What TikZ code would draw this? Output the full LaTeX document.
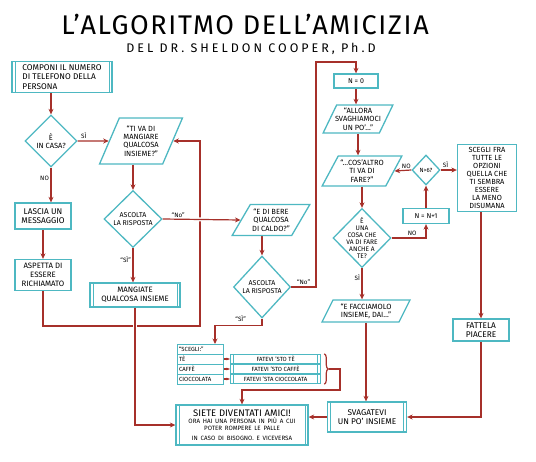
\documentclass[tikz,border=0pt]{standalone}
\usepackage{fontspec}
\setmainfont{Fira Sans}
\usetikzlibrary{shapes.geometric, arrows.meta, positioning, backgrounds, decorations.pathreplacing}
\definecolor{boxcol}{RGB}{78,184,194}
\definecolor{linecol}{RGB}{166,48,42}

\begin{document}
\begin{tikzpicture}[
    x=1pt, y=-1pt,
    font=\fontsize{8.3}{9.3}\selectfont,
    box/.style={draw=boxcol, line width=1.3pt, fill=white, align=center, inner sep=1pt},
    process/.style={box, path picture={
        \draw[boxcol, line width=0.8pt] ([xshift=3pt]path picture bounding box.north west) -- ([xshift=3pt]path picture bounding box.south west);
        \draw[boxcol, line width=0.8pt] ([xshift=-3pt]path picture bounding box.north east) -- ([xshift=-3pt]path picture bounding box.south east);}},
    decision/.style={box, diamond, inner sep=-1.5pt, font=\fontsize{7}{8}\selectfont},
    io/.style={box, trapezium, trapezium left angle=60, trapezium right angle=120, trapezium stretches=true, inner sep=0pt, inner xsep=-4pt, font=\fontsize{7.5}{8.4}\selectfont},
    row/.style={box, line width=1pt, outer sep=0pt, minimum width=46pt, minimum height=10pt, inner sep=0pt, text width=42pt, align=left, font=\fontsize{6}{6.2}\selectfont},
    arrow/.style={-{Stealth[length=5.5pt, width=5pt]}, draw=linecol, line width=1.2pt},
    line/.style={draw=linecol, line width=1.2pt},
    lbl/.style={font=\fontsize{6.3}{6.8}\selectfont, inner sep=1.5pt}
]
\useasboundingbox (0,0) rectangle (536,461);

% Title
\node[font=\fontsize{27}{29}\selectfont\addfontfeatures{LetterSpace=6}] (title) at (245,24) {L'ALGORITMO DELL'AMICIZIA};
\node[font=\fontsize{12.5}{14}\selectfont\addfontfeatures{LetterSpace=24}] (subtitle) at (251,49) {DEL DR. SHELDON COOPER, Ph.D};

% Left column
\node[process, minimum width=100pt, minimum height=31pt, align=left] (dial) at (62,77) {COMPONI IL NUMERO\\DI TELEFONO DELLA\\PERSONA};
\node[decision, minimum width=52pt, minimum height=52pt, font=\fontsize{7.5}{8.5}\selectfont] (home) at (51,141) {È\\IN CASA?};
\node[box, minimum width=56pt, minimum height=26pt] (msg) at (43,216) {LASCIA UN\\MESSAGGIO};
\node[box, minimum width=56pt, minimum height=31pt, font=\fontsize{7.8}{8.8}\selectfont] (wait) at (43,275) {ASPETTA DI\\ESSERE\\RICHIAMATO};

% Eat together
\node[io, trapezium left angle=68, trapezium right angle=112, minimum width=83pt, minimum height=46pt] (eat) at (141,141) {``TI VA DI\\MANGIARE\\QUALCOSA\\INSIEME?''};
\node[decision, minimum width=58pt, minimum height=57pt] (listen1) at (133,219) {ASCOLTA\\LA RISPOSTA};
\node[process, minimum width=90pt, minimum height=24pt, font=\fontsize{7.8}{8.8}\selectfont] (eattog) at (135,295) {MANGIATE\\QUALCOSA INSIEME};

% Drink together
\node[io, minimum width=78pt, minimum height=31pt] (drink) at (271,220) {``E DI BERE\\QUALCOSA\\DI CALDO?''};
\node[decision, minimum width=57pt, minimum height=62pt] (listen2) at (262,287) {ASCOLTA\\LA RISPOSTA};
\node[row] (pick) at (200,349) {``SCEGLI:''};
\node[row, below=0pt of pick] (tea) {TÈ};
\node[row, below=0pt of tea] (coffee) {CAFFÈ};
\node[row, below=0pt of coffee] (choc) {CIOCCOLATA};
\node[process, minimum width=90pt, minimum height=9pt, inner sep=0pt, right=7pt of tea, font=\fontsize{6}{6.2}\selectfont] (brewtea) {FATEVI 'STO TÈ};
\node[process, minimum width=90pt, minimum height=9pt, inner sep=0pt, right=7pt of coffee, font=\fontsize{6}{6.2}\selectfont] (brewcoffee) {FATEVI 'STO CAFFÈ};
\node[process, minimum width=90pt, minimum height=9pt, inner sep=0pt, right=7pt of choc, font=\fontsize{6}{6.2}\selectfont] (brewchoc) {FATEVI 'STA CIOCCOLATA};

% Friends
\node[process, minimum width=132pt, minimum height=40pt, text width=126pt] (friends) at (242,425) {{\fontsize{9.5}{11}\selectfont SIETE DIVENTATI AMICI!\par}\fontsize{6.2}{7.3}\selectfont ORA HAI UNA PERSONA IN PIÙ A CUI\\POTER ROMPERE LE PALLE\\IN CASO DI BISOGNO. E VICEVERSA};

% Right column
\node[box, minimum width=44pt, minimum height=14pt, font=\fontsize{7}{7.5}\selectfont] (nzero) at (356,81) {N = 0};
\node[io, trapezium left angle=62, trapezium right angle=118, minimum width=70pt, minimum height=28pt] (relax) at (358,119) {``ALLORA\\SVAGHIAMOCI\\UN PO'\ldots''};
\node[io, trapezium left angle=62, trapezium right angle=118, minimum width=80pt, minimum height=30pt] (what) at (362,171) {``\ldots COS'ALTRO\\TI VA DI\\FARE?''};
\node[decision, minimum width=58pt, minimum height=59pt, inner sep=-11pt, font=\fontsize{6.6}{7}\selectfont] (you) at (362,238) {È\\UNA\\COSA CHE\\VA DI FARE\\ANCHE A\\TE?};
\node[decision, minimum width=28pt, minimum height=30pt, inner sep=0pt, font=\fontsize{6}{6.5}\selectfont] (nsix) at (426,170) {N>6?};
\node[box, minimum width=46pt, minimum height=15pt, font=\fontsize{7}{7.5}\selectfont] (nplus) at (426,216) {N = N+1};
\node[box, minimum width=59pt, minimum height=67pt, font=\fontsize{7.4}{8}\selectfont] (choose) at (487,178) {SCEGLI FRA\\TUTTE LE\\OPZIONI\\QUELLA CHE\\TI SEMBRA\\ESSERE\\LA MENO\\DISUMANA};
\node[box, minimum width=56pt, minimum height=22pt] (enjoy) at (481,330) {FATTELA\\PIACERE};
\node[io, trapezium left angle=65, trapezium right angle=115, minimum width=88pt, minimum height=22pt] (together) at (366,311) {``E FACCIAMOLO\\INSIEME, DAI\ldots''};
\node[process, minimum width=79pt, minimum height=30pt] (hang) at (367,417) {SVAGATEVI\\UN PO' INSIEME};

\begin{scope}[on background layer]
% Arrows left column
\draw[arrow] (home.north |- dial.south) -- (home.north);
\draw[arrow] (home.east) -- (eat.west) node[lbl, pos=0.2, above] (yes1) {SÌ};
\draw[arrow] (home.south) -- (home.south |- msg.north) node[lbl, pos=0.3, left] (no1) {NO};
\draw[arrow] (msg.south) -- (wait.north);
\coordinate (back) at (200,326);
\draw[arrow] (wait.south) |- (back) |- (eat.east);

% Arrows eat together
\draw[arrow] (listen1.north |- eat.south) -- (listen1.north);
\draw[arrow, preaction={-, draw=white, line width=4pt}] (listen1.east) -- (drink.west) node[lbl, pos=0.2, above] (no2) {``No''};
\draw[arrow] (listen1.south) -- (listen1.south |- eattog.north) node[lbl, pos=0.35, left] (yes2) {``SÌ''};
\draw[arrow, preaction={-, draw=white, line width=4pt}] (eattog.south) |- (friends.west);

% Arrows drink together
\draw[arrow] (listen2.north |- drink.south) -- (listen2.north);
\coordinate (loop) at (316,62);
\draw[arrow] (listen2.east) -| node[lbl, pos=0.25, above] (no3) {``No''} (loop) -| (nzero.north);
\draw[arrow] (listen2.south) node[lbl, left=14pt] (yes3) {``SÌ''} -- ++(0,7) -| ([xshift=15pt]pick.north);
\draw[arrow, -{Stealth[length=3.5pt]}] (tea.east) -- (brewtea.west);
\draw[arrow, -{Stealth[length=3.5pt]}] (coffee.east) -- (brewcoffee.west);
\draw[arrow, -{Stealth[length=3.5pt]}] (choc.east) -- (brewchoc.west);
\draw[line, decorate, decoration={brace, amplitude=4pt}] ([xshift=3pt]brewtea.north east) -- ([xshift=3pt]brewchoc.south east) coordinate[midway, xshift=5pt] (tip);
\coordinate (join) at (340,390);
\draw[arrow] (tip) -| (join) -| (friends.north);

% Arrows right column
\draw[arrow] (nzero.south) -- (nzero.south |- relax.north);
\draw[arrow] (relax.center |- relax.south) -- (relax.center |- what.north);
\draw[arrow] (what.center |- what.south) -- (you.north);
\draw[arrow] (you.east) -| node[lbl, pos=0.3, above] (no4) {NO} (nplus.south);
\draw[arrow] (nplus.north) -- (nsix.south);
\draw[arrow] (nsix.west) -- (what.east) node[lbl, pos=0.3, above] (no5) {NO};
\draw[arrow] (nsix.east) -- (nsix.east -| choose.west) node[lbl, pos=0.3, above] (yes5) {SÌ};
\draw[arrow] (enjoy.north |- choose.south) -- (enjoy.north);
\draw[arrow] (enjoy.south) |- (hang.east);
\draw[arrow] (you.south) -- (you.south |- together.north) node[lbl, pos=0.3, left] (yes4) {SÌ};
\draw[arrow] (together.center |- together.south) -- (together.center |- hang.north);
\draw[arrow] (hang.west) -- (hang.west -| friends.east);
\end{scope}

\end{tikzpicture}
\end{document}
